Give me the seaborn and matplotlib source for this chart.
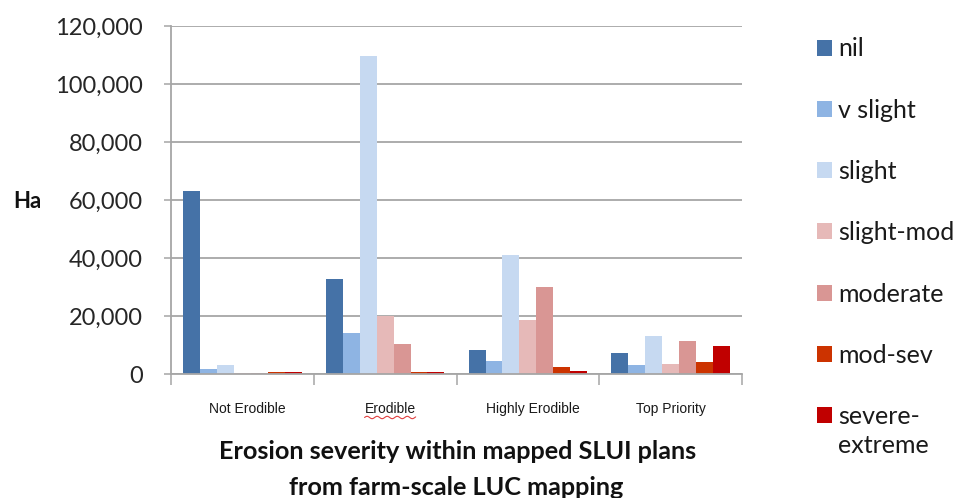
import numpy as np
import pandas as pd
import matplotlib
matplotlib.use("Agg")
import matplotlib.pyplot as plt
import matplotlib.transforms as mtransforms
import seaborn as sns
from matplotlib.patches import Patch
from matplotlib.ticker import FuncFormatter, FixedLocator, MultipleLocator

# Land class groups and erosion-severity classes (hectares)
categories = ["Not Erodible", "Erodible", "Highly Erodible", "Top Priority"]
severity = ["nil", "v slight", "slight", "slight-mod", "moderate", "mod-sev", "severe-\nextreme"]

nil = [63000, 32700, 8300, 7300]
v_slight = [1800, 14000, 4500, 3200]
slight = [3100, 109800, 41000, 13100]
slight_mod = [400, 20000, 18700, 3600]
moderate = [500, 10300, 29900, 11300]
mod_sev = [700, 700, 2400, 4100]
severe_extreme = [700, 600, 1000, 9600]

colors = ["#4572A7", "#8EB4E3", "#C6D9F1", "#E6B9B8", "#D99694", "#CC3300", "#C00000"]

series = [nil, v_slight, slight, slight_mod, moderate, mod_sev, severe_extreme]
df = pd.DataFrame(
    [(c, s, vals[i]) for s, vals in zip(severity, series) for i, c in enumerate(categories)],
    columns=["group", "severity", "Ha"],
)

sns.set_theme(style="white")
plt.rcParams["font.family"] = ["Lato", "DejaVu Sans"]

fig = plt.figure(figsize=(9.59, 4.98), dpi=100)
ax = fig.add_axes([171 / 959, 1 - 374 / 498, (742 - 171) / 959, (374 - 26) / 498])

sns.barplot(
    data=df, x="group", y="Ha", hue="severity",
    order=categories, hue_order=severity, palette=colors,
    width=0.83, saturation=1, linewidth=0, legend=False, ax=ax,
)

grid_c = "#A6A6A6"
ax.set_xlim(-0.5, 3.5)
ax.set_ylim(0, 120000)
ax.yaxis.set_major_locator(MultipleLocator(20000))
ax.yaxis.set_major_formatter(FuncFormatter(lambda v, p: f"{int(v):,}"))
ax.grid(axis="y", color=grid_c, linewidth=1.3)
ax.set_axisbelow(True)

for side in ["top", "right"]:
    ax.spines[side].set_visible(False)
for side in ["left", "bottom"]:
    ax.spines[side].set_color(grid_c)
    ax.spines[side].set_linewidth(1.3)

ax.tick_params(axis="y", which="major", length=5, width=1.1, color=grid_c,
               pad=15, labelsize=17, labelcolor="#262626", left=True)
for lbl in ax.get_yticklabels():
    lbl.set_family(["Lato", "DejaVu Sans"])

# category labels centred, with tick marks at group boundaries
ax.xaxis.set_minor_locator(FixedLocator([-0.5, 0.5, 1.5, 2.5, 3.5]))
ax.tick_params(axis="x", which="major", length=0, pad=19.8, labelsize=10, labelcolor="#1a1a1a")
ax.tick_params(axis="x", which="minor", length=8, width=1.1, color=grid_c, bottom=True)
nudge = [5, 5, 5, 0]
for lbl, dx in zip(ax.get_xticklabels(), nudge):
    lbl.set_family(["Liberation Sans", "DejaVu Sans"])
    lbl.set_transform(lbl.get_transform() +
                      mtransforms.ScaledTranslation(dx / 100, 0, fig.dpi_scale_trans))
ax.set_xlabel("")
ax.set_ylabel("")

fig.text(27 / 959, 1 - 201 / 498, "Ha", ha="center", va="center",
         fontsize=16, fontweight="bold", color="#111111")

fig.text(458 / 959, 1 - 451 / 498, "Erosion severity within mapped SLUI plans",
         ha="center", va="center", fontsize=18.2, fontweight="bold", color="#111111")
fig.text(456 / 959, 1 - 487 / 498, "from farm-scale LUC mapping",
         ha="center", va="center", fontsize=18.2, fontweight="bold", color="#111111")

handles = [Patch(facecolor=c, edgecolor="none") for c in colors]
leg = fig.legend(handles, severity, loc="upper left", bbox_to_anchor=(817 / 959, 1 - 37.5 / 498),
                 frameon=False, fontsize=18, handlelength=0.6, handleheight=0.6,
                 handletextpad=0.23, labelspacing=1.53, borderaxespad=0, borderpad=0,
                 labelcolor="#1a1a1a")
# wider line gap in the two-line label, swatch level with its first line
leg.get_texts()[-1].set_linespacing(1.33)
last = leg.legend_handles[-1]
last.set_y(last.get_y() + 12)

# red spell-check squiggle under the "Erodible" label
fig.canvas.draw()
bb = ax.get_xticklabels()[1].get_window_extent()
xs = np.linspace(bb.x0, bb.x1, 60)
ys = bb.y0 - 2 + 1.2 * np.sin((xs - bb.x0) / 1.6)
fig.add_artist(plt.Line2D(xs / fig.bbox.width, ys / fig.bbox.height,
                          color="#E04040", linewidth=0.8, transform=fig.transFigure))

fig.savefig("out.png", dpi=100)
